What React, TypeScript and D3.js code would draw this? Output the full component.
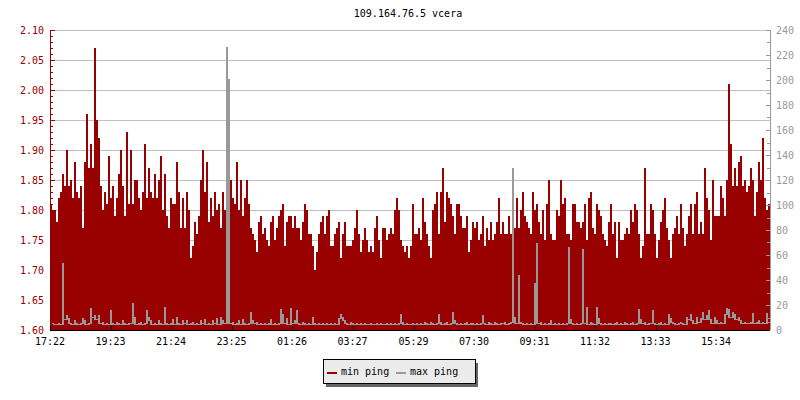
import React from 'react';
import * as d3 from 'd3';

const TITLE = '109.164.76.5 vcera';
const START = new Date(2020, 0, 1, 17, 22);
const STEP_MIN = 4;
const SPAN_HOURS = 24;

const timeLabels = ['17:22', '19:23', '21:24', '23:25', '01:26', '03:27', '05:29', '07:30', '09:31', '11:32', '13:33', '15:34'];
const leftTicks = [1.6, 1.65, 1.7, 1.75, 1.8, 1.85, 1.9, 1.95, 2.0, 2.05, 2.1];
const rightTicks = [0, 20, 40, 60, 80, 100, 120, 140, 160, 180, 200, 220, 240];
const seriesNames = ['min ping', 'max ping'];

// min ping (left axis, ms), one value every 4 minutes
const minPing = [
  1.81,1.80,1.80,1.78,1.82,1.83,1.86,1.84,1.90,1.84,1.85,1.82,1.88,1.83,1.82,1.84,1.77,1.88,1.96,1.87,
  1.91,1.87,2.07,1.95,1.92,1.84,1.80,1.83,1.81,1.89,1.82,1.84,1.79,1.82,1.86,1.90,1.84,1.79,1.93,1.81,
  1.90,1.81,1.85,1.85,1.82,1.80,1.83,1.91,1.82,1.87,1.83,1.82,1.86,1.82,1.85,1.89,1.80,1.86,1.79,1.77,
  1.82,1.81,1.81,1.88,1.83,1.77,1.82,1.77,1.83,1.80,1.72,1.74,1.78,1.76,1.79,1.85,1.90,1.83,1.88,1.78,
  1.82,1.79,1.83,1.80,1.81,1.77,1.83,1.80,1.85,1.85,1.85,1.82,1.81,1.88,1.80,1.85,1.79,1.82,1.85,1.81,
  1.77,1.76,1.75,1.73,1.78,1.79,1.76,1.77,1.75,1.74,1.78,1.79,1.75,1.77,1.79,1.80,1.81,1.74,1.78,1.79,
  1.79,1.77,1.79,1.77,1.77,1.75,1.78,1.81,1.80,1.76,1.76,1.74,1.70,1.73,1.76,1.78,1.79,1.76,1.79,1.80,
  1.74,1.74,1.76,1.77,1.78,1.72,1.76,1.78,1.74,1.74,1.74,1.75,1.77,1.80,1.76,1.73,1.75,1.77,1.75,1.73,
  1.74,1.73,1.77,1.79,1.75,1.72,1.77,1.77,1.75,1.76,1.77,1.76,1.80,1.82,1.80,1.75,1.74,1.73,1.74,1.72,
  1.74,1.81,1.76,1.76,1.77,1.75,1.82,1.78,1.76,1.74,1.72,1.80,1.81,1.83,1.76,1.83,1.87,1.78,1.83,1.82,
  1.81,1.79,1.76,1.81,1.81,1.79,1.77,1.77,1.79,1.73,1.75,1.78,1.77,1.78,1.75,1.76,1.79,1.74,1.77,1.75,
  1.78,1.75,1.76,1.78,1.82,1.76,1.78,1.76,1.76,1.79,1.76,1.80,1.77,1.82,1.77,1.80,1.83,1.79,1.78,1.77,
  1.76,1.83,1.80,1.81,1.78,1.76,1.80,1.75,1.81,1.85,1.76,1.75,1.75,1.80,1.79,1.85,1.81,1.82,1.76,1.76,
  1.75,1.81,1.81,1.78,1.78,1.77,1.78,1.81,1.75,1.82,1.83,1.77,1.76,1.81,1.80,1.79,1.76,1.75,1.74,1.78,
  1.81,1.76,1.78,1.72,1.78,1.75,1.75,1.76,1.77,1.76,1.80,1.78,1.81,1.80,1.76,1.72,1.74,1.87,1.76,1.76,
  1.81,1.80,1.76,1.72,1.75,1.78,1.80,1.82,1.77,1.75,1.72,1.76,1.77,1.79,1.76,1.81,1.77,1.74,1.76,1.79,
  1.81,1.76,1.81,1.83,1.76,1.78,1.76,1.87,1.82,1.80,1.75,1.85,1.79,1.79,1.79,1.84,1.82,1.79,1.85,2.01,
  1.91,1.84,1.87,1.84,1.88,1.89,1.84,1.85,1.83,1.84,1.87,1.85,1.79,1.83,1.88,1.85,1.92,1.82,1.80,1.81,
];

// max ping (right axis, ms), one value every 4 minutes
const maxPing = [
  4,5,4,4,5,4,53,8,11,9,5,4,7,5,4,5,9,7,4,5,
  17,10,11,8,11,5,6,4,5,4,15,5,4,6,5,4,7,5,4,5,
  5,21,10,4,5,6,4,5,15,10,7,4,5,4,7,5,4,18,5,4,
  5,8,4,10,5,4,7,5,7,4,5,6,4,5,4,7,5,8,4,5,
  4,7,5,9,4,10,7,5,226,200,5,6,4,5,7,4,8,5,4,5,
  14,7,5,6,4,5,4,5,4,5,8,4,5,4,5,16,12,5,9,4,
  17,5,7,15,5,4,6,5,4,5,4,10,5,4,5,4,5,4,5,4,
  5,4,5,4,9,12,10,7,5,4,6,5,4,5,4,5,4,5,4,4,
  5,4,4,5,4,5,4,4,5,4,5,4,5,4,5,12,6,4,5,4,
  4,5,4,5,4,5,4,6,5,4,6,5,4,5,12,6,4,5,6,4,
  5,14,7,5,4,5,4,5,6,4,5,5,4,5,4,5,11,5,4,6,
  5,4,6,5,4,5,5,6,4,5,6,129,10,5,43,6,5,4,5,4,
  5,4,37,69,5,6,4,5,4,5,7,4,5,4,5,4,5,4,5,66,
  8,5,4,5,4,5,64,5,18,4,6,5,4,18,9,5,4,5,4,5,
  5,4,5,6,4,5,4,6,5,4,5,6,4,5,16,8,5,6,4,5,
  5,15,5,4,5,6,4,5,4,12,9,6,5,4,5,6,5,4,10,8,
  12,7,5,10,6,9,14,8,11,15,8,5,10,7,5,6,5,12,17,16,
  10,14,12,8,10,7,5,6,5,5,6,13,5,6,7,5,6,5,13,6,
];

const W = 800;
const H = 400;
const M = { left: 50, right: 770, top: 30, bottom: 330 };
const RED = '#990000';
const GREY = '#999999';
const FONT = '"DejaVu Sans Mono", monospace';

export default function App() {
  const end = new Date(START.getTime() + SPAN_HOURS * 3600 * 1000);
  const x = d3.scaleTime().domain([START, end]).range([M.left, M.right]);
  const yL = d3.scaleLinear().domain([1.6, 2.1]).range([M.bottom, M.top]);
  const yR = d3.scaleLinear().domain([0, 240]).range([M.bottom, M.top]);

  const t = (i: number) => new Date(START.getTime() + i * STEP_MIN * 60000);
  const minPts: [Date, number][] = minPing.map((v, i) => [t(i), v]);
  minPts.push([end, minPing[minPing.length - 1]]);

  const area = d3
    .area<[Date, number]>()
    .x((d) => x(d[0]))
    .y0(yL(1.6))
    .y1((d) => yL(d[1]))
    .curve(d3.curveStepAfter);

  // max ping drawn like a 1px step line: each sample is a column from its value
  // down to the lower of its neighbours (the vertical connecting strokes)
  const maxCols = maxPing.map((v, i) => {
    const prev = i > 0 ? maxPing[i - 1] : v;
    const next = i < maxPing.length - 1 ? maxPing[i + 1] : v;
    const lo = Math.min(prev, next, v);
    const x0 = Math.round(x(t(i)));
    const x1 = Math.round(x(t(i + 1)));
    const top = Math.round(yR(v));
    const bottom = Math.max(top + 1, Math.round(yR(lo)) + 1);
    return { x0, x1, top, bottom };
  });

  const startMin = START.getHours() * 60 + START.getMinutes();
  const tickDates = timeLabels.map((s) => {
    const [h, m] = s.split(':').map(Number);
    let mins = h * 60 + m - startMin;
    if (mins < 0) mins += 24 * 60;
    return new Date(START.getTime() + mins * 60000);
  });

  const leftMinor = d3.range(0, 51).map((k) => 1.6 + k * 0.01);
  const rightMinor = d3.range(0, 25).map((k) => k * 10);
  const fmt = d3.format('.2f');

  const legendX = 323;
  const legendY = 359.5;
  const legendW = 152;
  const legendH = 24;

  return (
    <svg width={W} height={H} style={{ position: 'absolute', left: 0, top: 0, background: '#fff' }} fontFamily={FONT}>
      <rect x={0} y={0} width={W} height={H} fill="#fff" />
      <text x={408} y={16.5} fontSize={10} textAnchor="middle" fill="#000">{TITLE}</text>

      <g shapeRendering="crispEdges">
        {leftTicks.slice(1).map((v) => (
          <line key={'g' + v} x1={M.left} x2={M.right} y1={yL(v)} y2={yL(v)} stroke="#c0c0c0" strokeWidth={1} />
        ))}
        <path d={area(minPts) || ''} fill={RED} />
        {maxCols.map((c, i) => (
          <rect key={'mx' + i} x={c.x0} y={c.top - 1} width={c.x1 - c.x0} height={c.bottom - c.top} fill={GREY} />
        ))}

        {/* left axis */}
        <line x1={M.left} x2={M.left} y1={M.top} y2={M.bottom} stroke={RED} />
        {leftMinor.map((v, k) => (
          <line key={'lm' + k} x1={M.left} x2={M.left + (k % 5 === 0 ? 5 : 3)} y1={Math.round(yL(v))} y2={Math.round(yL(v))} stroke={RED} />
        ))}
        {/* right axis */}
        <line x1={M.right} x2={M.right} y1={M.top} y2={M.bottom} stroke={GREY} />
        {rightMinor.concat([240]).map((v, k) => (
          <line key={'rm' + k} x1={M.right - (k % 2 === 0 ? 4 : 3)} x2={M.right} y1={Math.round(yR(v))} y2={Math.round(yR(v))} stroke={GREY} />
        ))}
        {/* bottom axis */}
        <line x1={M.left} x2={M.right} y1={M.bottom} y2={M.bottom} stroke="#000" />
        {tickDates.map((d, k) => (
          <line key={'bt' + k} x1={Math.round(x(d))} x2={Math.round(x(d))} y1={M.bottom - 4} y2={M.bottom} stroke="#000" />
        ))}
      </g>

      {leftTicks.map((v) => (
        <text key={'ll' + v} x={44} y={yL(v) + 4} fontSize={10} textAnchor="end" fill={RED}>{fmt(v)}</text>
      ))}
      {rightTicks.map((v) => (
        <text key={'rl' + v} x={776} y={yR(v) + 4} fontSize={10} textAnchor="start" fill={GREY}>{v}</text>
      ))}
      {tickDates.map((d, k) => (
        <text key={'bl' + k} x={x(d)} y={345} fontSize={10} textAnchor="middle" fill="#000">{timeLabels[k]}</text>
      ))}

      {/* legend */}
      <g shapeRendering="crispEdges">
        <rect x={legendX + 3} y={legendY + 3} width={legendW} height={legendH} fill="#666" />
        <rect x={legendX} y={legendY} width={legendW} height={legendH} fill="#ebebeb" stroke="#000" />
        <rect x={327} y={371.5} width={10} height={2} fill={RED} />
        <rect x={396} y={371.5} width={10} height={2} fill={GREY} />
      </g>
      <text x={341} y={375} fontSize={10} fill="#000">{seriesNames[0]}</text>
      <text x={410} y={375} fontSize={10} fill="#000">{seriesNames[1]}</text>
    </svg>
  );
}
